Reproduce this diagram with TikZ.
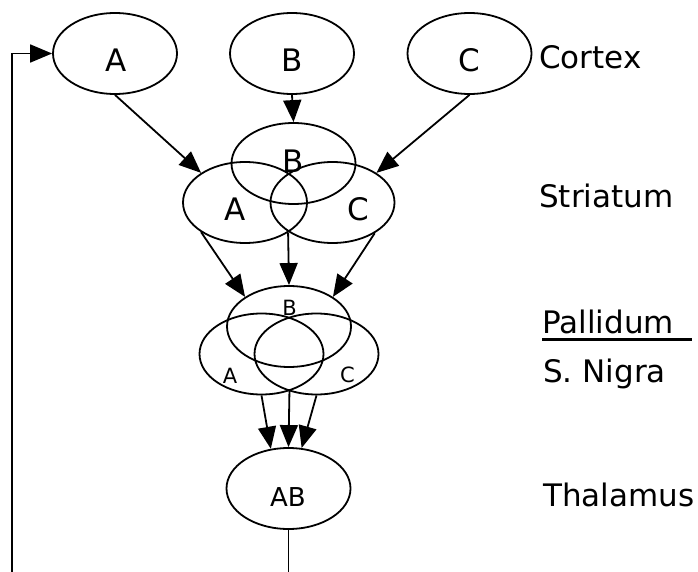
\documentclass[tikz,border=0pt]{standalone}
\usepackage{fontspec}
\setmainfont{DejaVu Sans}
\usetikzlibrary{arrows.meta,shapes.geometric}
\begin{document}
\begin{tikzpicture}[x=1pt,y=-1pt,
  oval/.style={draw, ellipse, line width=1.8pt, inner sep=0pt,
               minimum width=124pt, minimum height=81pt},
  flow/.style={line width=1.8pt, -{Triangle[length=22pt,width=18pt]}},
  wire/.style={line width=1.8pt},
  big/.style={inner sep=0pt, anchor=base, font=\fontsize{31}{36}\selectfont},
  small/.style={inner sep=0pt, anchor=base, font=\fontsize{21}{25}\selectfont},
  mid/.style={inner sep=0pt, anchor=base, font=\fontsize{26}{30}\selectfont},
  region/.style={inner sep=0pt, anchor=base west, font=\fontsize{31}{36}\selectfont}]
\useasboundingbox (0,0) rectangle (698,572);

% cortex
\node[oval] (cA) at (115,53.5) {};
\node[oval] (cB) at (292,53.5) {};
\node[oval] (cC) at (469.5,53.5) {};
\node[big] (tcA) at (116,72) {A};
\node[big] (tcB) at (292,72) {B};
\node[big] (tcC) at (469,72) {C};

% striatum
\node[oval] (sB) at (293.5,163.5) {};
\node[oval] (sA) at (245,202.5) {};
\node[oval] (sC) at (332.5,202.5) {};
\node[big] (tsB) at (293,172) {B};
\node[big] (tsA) at (235.5,220) {A};
\node[big] (tsC) at (358,220) {C};

% pallidum / substantia nigra
\node[oval] (pB) at (289,326.5) {};
\node[oval] (pA) at (261.5,354) {};
\node[oval] (pC) at (316.5,354) {};
\node[small] (tpB) at (289.5,315) {B};
\node[small] (tpA) at (230,383) {A};
\node[small] (tpC) at (347.5,382) {C};

% thalamus
\node[oval] (ab) at (288.5,488.5) {};
\node[mid] (tab) at (288,506) {AB};

% region names
\node[region] (lcx) at (539,69) {Cortex};
\node[region] (lst) at (539,207) {Striatum};
\node[region] (lpa) at (542,333) {Pallidum};
\node[region] (lsn) at (543,382) {S. Nigra};
\node[region] (lth) at (543,506) {Thalamus};
\coordinate (ul1) at (542,339);
\coordinate (ul2) at (692,339);
\draw[line width=3pt] (ul1) -- (ul2);

% cortex to striatum
\draw[flow] (cA.south) -- (sA.146);
\draw[flow] (cB.south) -- (sB.north);
\draw[flow] (cC.south) -- (sC.34);

% striatum to pallidum
\draw[flow] (sA.-146) -- (pB.146);
\draw[flow] (sA.-35) -- (pB.north);
\draw[flow] (sC.-36) -- (pB.34);

% pallidum to thalamus
\draw[flow] (pA.south) -- (ab.114);
\draw[flow] (pA.-53) -- (ab.north);
\draw[flow] (pC.south) -- (ab.72);

% thalamic output and feedback loop to cortex
\coordinate (out) at (288.5,572);
\coordinate (fb) at (12,572);
\draw[wire] (ab.south) -- (out);
\draw[flow] (fb) |- (cA.west);
\end{tikzpicture}
\end{document}
